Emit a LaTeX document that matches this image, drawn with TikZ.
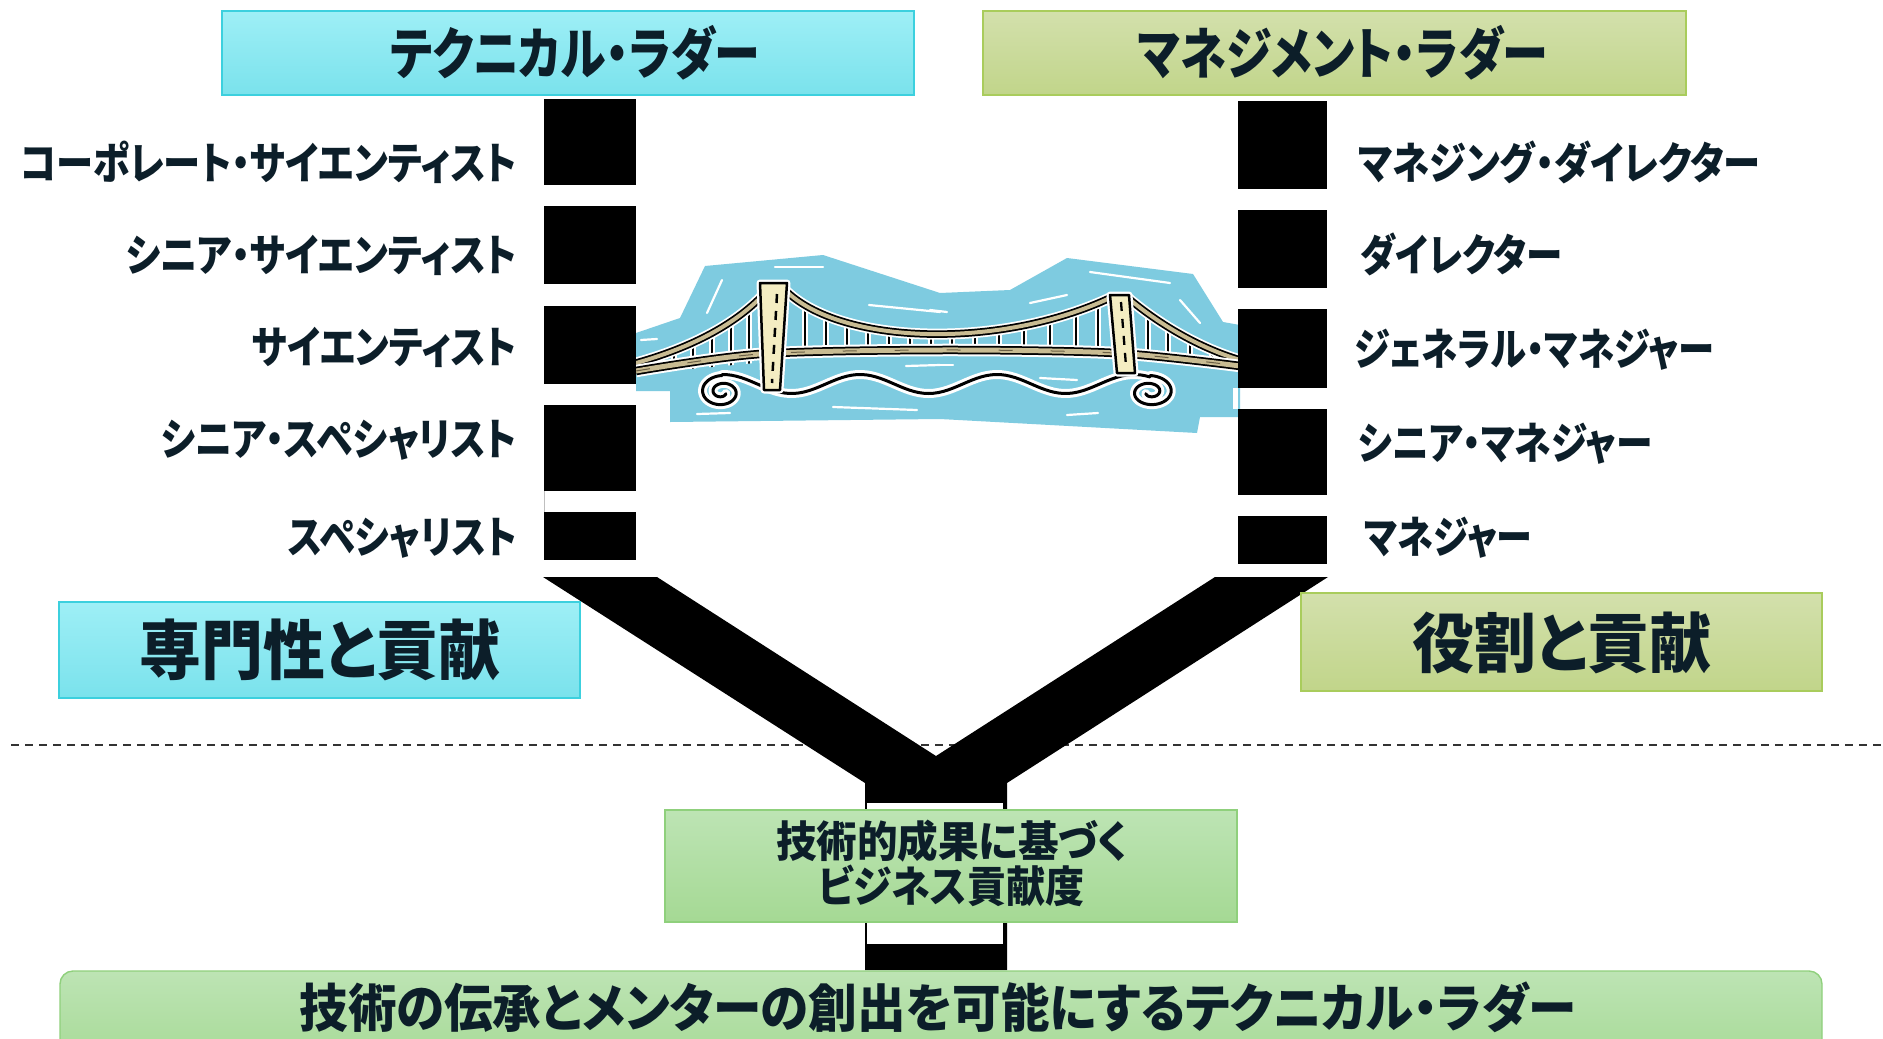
\documentclass[tikz,border=0pt]{standalone}
\usepackage{fontspec}
\usepackage{graphicx}
\newfontfamily\jp{Noto Sans CJK JP}[RawFeature=+palt]
\usetikzlibrary{calc}

\definecolor{ink}{HTML}{0C1E29}
\definecolor{cyanTop}{HTML}{9EEFF6}
\definecolor{cyanBot}{HTML}{7AE2EC}
\definecolor{cyanLine}{HTML}{3CD0DE}
\definecolor{oliveTop}{HTML}{D3E0AC}
\definecolor{oliveBot}{HTML}{C1D58A}
\definecolor{oliveLine}{HTML}{A9CC5C}
\definecolor{mintTop}{HTML}{BDE4B4}
\definecolor{mintBot}{HTML}{A5D994}
\definecolor{mintLine}{HTML}{8FD07C}
\definecolor{water}{HTML}{7ECBE0}
\definecolor{deckTan}{HTML}{C8BB92}
\definecolor{towerFill}{HTML}{F4EDC2}
\definecolor{laneMark}{HTML}{6B5F45}

% squeeze a text horizontally to a given width (in pt), keeping its height
\newcommand\fitw[2]{\resizebox{#1pt}{\height}{#2}}

\tikzset{
  txt/.style={inner sep=0pt, text=ink},
  fs/.style={font={\jp\bfseries\fontsize{#1}{#1}\selectfont}},
  cyanbox/.style={draw=cyanLine, top color=cyanTop, bottom color=cyanBot, line width=1.4pt, inner sep=0pt},
  olivebox/.style={draw=oliveLine, top color=oliveTop, bottom color=oliveBot, line width=1.4pt, inner sep=0pt},
  mintbox/.style={draw=mintLine, top color=mintTop, bottom color=mintBot, line width=1.4pt, inner sep=0pt},
  rung/.style={fill=black},
  streak/.style={white, line width=2.2pt, line cap=round},
}

\begin{document}
\begin{tikzpicture}[x=1pt, y=-1pt]
\useasboundingbox (0,0) rectangle (1883,1039);
\clip (0,0) rectangle (1883,1039);
\fill[white] (0,0) rectangle (1883,1039);

% ---------- bridge between the two ladders ----------
\fill[water] (636,333) -- (680,318) -- (705,266) -- (823,255) -- (940,293) -- (1010,290)
  -- (1067,258) -- (1193,274) -- (1223,322) -- (1240,325) -- (1240,417) -- (1200,417)
  -- (1197,433) -- (940,419) -- (670,422) -- (670,391) -- (636,391) -- cycle;

\draw[streak] (775,267) -- (823,267);
\draw[streak] (722,280) -- (707,313);
\draw[streak] (869,305) -- (940,312);
\draw[streak] (641,340) -- (657,339);
\draw[streak] (906,366) -- (940,365);
\draw[streak] (833,407) -- (917,410);
\draw[streak] (697,414) -- (730,413);
\draw[streak] (1090,272) -- (1170,283);
\draw[streak] (1030,303) -- (1067,295);
\draw[streak] (1180,300) -- (1200,323);
\draw[streak] (930,310) -- (947,312);
\draw[streak] (930,365) -- (953,365);
\draw[streak] (1040,378) -- (1077,380);
\draw[streak] (1067,415) -- (1098,413);

% waves with curls at both ends
\foreach \w/\c in {9/white, 3/black}{
  \draw[line width=\w pt, \c, line cap=round, line join=round]
    plot[domain=722:1150, samples=90] (\x, {384-9.5*cos((\x-723)/137*360)});
  \draw[line width=\w pt, \c, line cap=round, line join=round]
    plot[domain=0:600, samples=120]
      ({722+22*(1-0.8*\x/600)*cos(90+\x)}, {392-16.5*(1-0.8*\x/600)*sin(90+\x)});
  \draw[line width=\w pt, \c, line cap=round, line join=round]
    plot[domain=0:600, samples=120]
      ({1150+24*(1-0.8*\x/600)*cos(90-\x)}, {392-16.5*(1-0.8*\x/600)*sin(90-\x)});
}

% hangers
\begin{scope}
  \clip (785,290) .. controls (840,345) and (1000,350) .. (1112,297) -- (1112,352) -- (785,352) -- cycle;
  \foreach \h in {805,826,847,868,889,910,931,952,975,999,1024,1050,1076,1098}{
    \draw[white, line width=5.5pt] (\h,270) -- (\h,360);
    \draw[black, line width=2.2pt] (\h,270) -- (\h,360);
  }
\end{scope}
\begin{scope}
  \clip (636,363) .. controls (700,345) and (740,320) .. (766,292) -- (766,362) -- (636,374) -- cycle;
  \foreach \h in {656,674,693,712,731,749}{
    \draw[white, line width=5.5pt] (\h,280) -- (\h,380);
    \draw[black, line width=2.2pt] (\h,280) -- (\h,380);
  }
\end{scope}
\begin{scope}
  \clip (1128,298) .. controls (1160,325) and (1200,348) .. (1240,360) -- (1240,368) -- (1128,356) -- cycle;
  \foreach \h in {1148,1168,1190,1212,1230}{
    \draw[white, line width=5.5pt] (\h,280) -- (\h,380);
    \draw[black, line width=2.2pt] (\h,280) -- (\h,380);
  }
\end{scope}

% main cables and deck
\foreach \w/\c in {11/white, 7.5/black, 4/deckTan}{
  \draw[line width=\w pt, \c, line join=round] (636,363) .. controls (700,345) and (740,320) .. (766,292);
  \draw[line width=\w pt, \c, line join=round] (785,290) .. controls (840,345) and (1000,350) .. (1112,297);
  \draw[line width=\w pt, \c, line join=round] (1128,298) .. controls (1160,325) and (1200,348) .. (1240,360);
}
\foreach \w/\c in {12.5/white, 8.5/black, 5/deckTan}{
  \draw[line width=\w pt, \c] plot[smooth] coordinates {(636,371) (760,354) (940,350) (1115,353) (1240,366)};
}
\draw[laneMark, line width=1pt, dash pattern=on 14pt off 38pt]
  plot[smooth] coordinates {(636,371) (760,354) (940,350) (1115,353) (1240,366)};

% towers
\foreach \T in {{(760,283) -- (787,283) -- (780,390) -- (764,390) -- cycle},
                {(1110,295) -- (1129,295) -- (1135,373) -- (1117,373) -- cycle}}{
  \draw[white, line width=7pt, line join=round] \T;
  \filldraw[fill=towerFill, draw=black, line width=2.5pt, line join=round] \T;
}
\draw[black, line width=2.5pt, dash pattern=on 9pt off 8pt] (777,294) -- (772,383);
\draw[black, line width=2.3pt, dash pattern=on 9pt off 8pt] (1121,302) -- (1126,366);

% ---------- the two ladders ----------
\foreach \a/\b in {99/184.5, 206/284, 306/384, 405/491, 512/560}{
  \fill[rung] (544,\a) rectangle (636,\b);
}
\draw[black!25, line width=0.8pt] (544.4,491) -- (544.4,512);
\fill[white] (1233,388) rectangle (1238,409);
\foreach \a/\b in {101/189, 210/288, 309/388, 409/495, 516/564}{
  \fill[rung] (1238,\a) rectangle (1327,\b);
}

% dividing line
\draw[black!80, line width=2pt, dash pattern=on 8pt off 6pt] (11,745) -- (1883,745);

% ---------- the two tracks merging into one ----------
\fill[black] (543,577) -- (657,577) -- (936,756) -- (1215,577) -- (1328,577)
  -- (1007,783) -- (1007,970) -- (865,970) -- (865,783) -- cycle;
\fill[white] (867,803) rectangle (1003,944);

% ---------- headers and boxes ----------
\node[cyanbox, minimum width=692, minimum height=84] (tech) at (568,53) {};
\node[olivebox, minimum width=703, minimum height=84] (mgmt) at (1334.5,53) {};
\node[cyanbox, minimum width=521, minimum height=96] (expert) at (319.5,650) {};
\node[olivebox, minimum width=521, minimum height=98] (role) at (1561.5,642) {};
\node[mintbox, minimum width=572, minimum height=112] (merit) at (951,866) {};
\draw[mintbox, rounded corners=13pt] (60,971) rectangle (1822,1070);

\node[txt, fs=56, anchor=base] (techT) at (575,74.3) {\fitw{370}{テクニカル・ラダー}};
\node[txt, fs=56, anchor=base] (mgmtT) at (1343,74.3) {\fitw{410}{マネジメント・ラダー}};
\node[txt, fs=65, anchor=base] (expertT) at (320,674.7) {\fitw{361}{専門性と貢献}};
\node[txt, fs=65, anchor=base] (roleT) at (1562,667.7) {\fitw{299}{役割と貢献}};
\node[txt, fs=43, anchor=base] (meritA) at (952,857.3) {\fitw{352}{技術的成果に基づく}};
\node[txt, fs=43, anchor=base] (meritB) at (951,902.3) {\fitw{266}{ビジネス貢献度}};
\node[txt, fs=52, anchor=base] (motto) at (938,1027.8) {\fitw{1277}{技術の伝承とメンターの創出を可能にするテクニカル・ラダー}};

% ---------- rank names ----------
\node[txt, fs=44, anchor=base east] (l1) at (517,179.7) {\fitw{496}{コーポレート・サイエンティスト}};
\node[txt, fs=44, anchor=base east] (l2) at (517,271.7) {\fitw{391}{シニア・サイエンティスト}};
\node[txt, fs=44, anchor=base east] (l3) at (517,363.7) {\fitw{265}{サイエンティスト}};
\node[txt, fs=44, anchor=base east] (l4) at (517,455.7) {\fitw{356}{シニア・スペシャリスト}};
\node[txt, fs=44, anchor=base east] (l5) at (517,553.2) {\fitw{229}{スペシャリスト}};

\node[txt, fs=44, anchor=base west] (r1) at (1358,179.7) {\fitw{402}{マネジング・ダイレクター}};
\node[txt, fs=44, anchor=base west] (r2) at (1360,271.7) {\fitw{202}{ダイレクター}};
\node[txt, fs=44, anchor=base west] (r3) at (1354,365.7) {\fitw{360}{ジェネラル・マネジャー}};
\node[txt, fs=44, anchor=base west] (r4) at (1358,459.7) {\fitw{294}{シニア・マネジャー}};
\node[txt, fs=44, anchor=base west] (r5) at (1364,553.7) {\fitw{168}{マネジャー}};
\end{tikzpicture}
\end{document}
